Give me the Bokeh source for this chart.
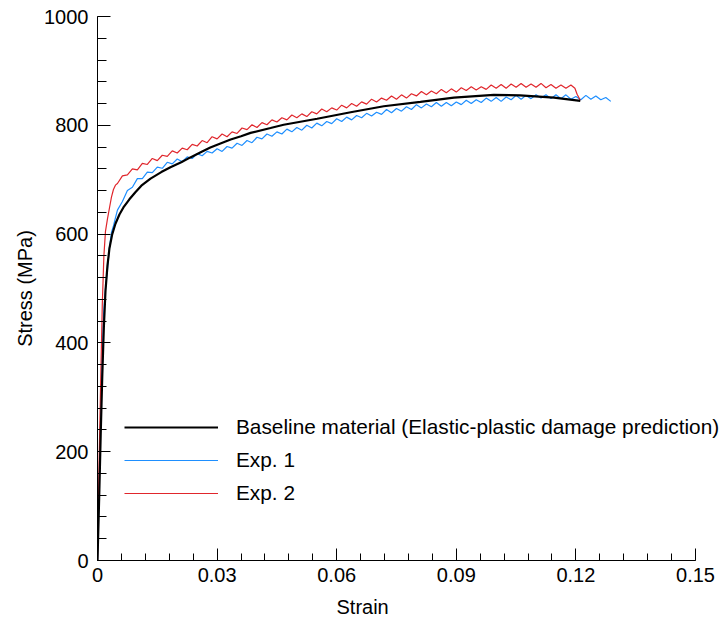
from bokeh.plotting import figure
from bokeh.models import Range1d, FixedTicker, CustomJSTickFormatter, Legend, LegendItem, Title
from bokeh.embed import file_html
from bokeh.resources import INLINE

# ---------------- data ----------------
base_strain = [0, 0.0004, 0.0008, 0.0012, 0.0016, 0.002, 0.0025, 0.003, 0.0037, 0.0045,
               0.0055, 0.0065, 0.008, 0.0095, 0.011, 0.0133, 0.016, 0.0183, 0.021, 0.0233,
               0.026, 0.0283, 0.031, 0.0334, 0.036, 0.0384, 0.0434, 0.0467, 0.0551, 0.0635,
               0.0718, 0.081, 0.0894, 0.0994, 0.106, 0.1145, 0.1211]
base_stress = [0, 110, 230, 340, 430, 495, 542, 574, 600, 619,
               636, 649, 664, 677, 689, 702, 714, 723, 732, 741,
               751, 759, 767, 774, 780, 786, 795, 801, 812, 824,
               835, 843, 851, 856, 855, 851, 845]

exp1_strain = [0, 0.0005, 0.001, 0.0015, 0.002, 0.0025, 0.003, 0.0035, 0.004, 0.0045,
               0.005, 0.00625, 0.0075, 0.00875, 0.01, 0.01125, 0.0125, 0.01375, 0.015, 0.01625,
               0.0175, 0.01875, 0.02, 0.02125, 0.0225, 0.02375, 0.025, 0.02625, 0.0275, 0.02875,
               0.03, 0.03125, 0.0325, 0.03375, 0.035, 0.03625, 0.0375, 0.03875, 0.04, 0.04125,
               0.0425, 0.04375, 0.045, 0.04625, 0.0475, 0.04875, 0.05, 0.05125, 0.0525, 0.05375,
               0.055, 0.05625, 0.0575, 0.05875, 0.06, 0.06125, 0.0625, 0.06375, 0.065, 0.06625,
               0.0675, 0.06875, 0.07, 0.07125, 0.0725, 0.07375, 0.075, 0.07625, 0.0775, 0.07875,
               0.08, 0.08125, 0.0825, 0.08375, 0.085, 0.08625, 0.0875, 0.08875, 0.09, 0.09125,
               0.0925, 0.09375, 0.095, 0.09625, 0.0975, 0.09875, 0.1, 0.10125, 0.1025, 0.10375,
               0.105, 0.10625, 0.1075, 0.10875, 0.11, 0.11125, 0.1125, 0.11375, 0.115, 0.11625,
               0.1175, 0.11875, 0.12, 0.12125, 0.1225, 0.12375, 0.125, 0.12625, 0.1275, 0.12875]
exp1_stress = [0, 160, 330, 450, 500, 535, 575, 603, 615, 630,
               644, 660, 680, 686, 702, 702, 714, 713, 723, 721,
               732, 729, 738, 733, 742, 739, 748, 744, 752, 749,
               757, 752, 761, 758, 767, 763, 772, 768, 778, 775,
               784, 780, 788, 784, 793, 788, 796, 791, 800, 795,
               804, 799, 807, 803, 812, 807, 815, 810, 818, 814,
               822, 817, 824, 820, 829, 823, 831, 826, 834, 829,
               838, 832, 839, 834, 842, 835, 842, 836, 843, 838,
               846, 840, 847, 842, 850, 844, 851, 844, 852, 847,
               855, 848, 855, 849, 856, 850, 856, 849, 856, 849,
               856, 848, 853, 847, 855, 848, 854, 847, 851, 844]

exp2_strain = [0, 0.0004, 0.0008, 0.0012, 0.0016, 0.002, 0.0025, 0.003, 0.0035, 0.004, 0.0045,
               0.005, 0.00625, 0.0075, 0.00875, 0.01, 0.01125, 0.0125, 0.01375, 0.015, 0.01625,
               0.0175, 0.01875, 0.02, 0.02125, 0.0225, 0.02375, 0.025, 0.02625, 0.0275, 0.02875,
               0.03, 0.03125, 0.0325, 0.03375, 0.035, 0.03625, 0.0375, 0.03875, 0.04, 0.04125,
               0.0425, 0.04375, 0.045, 0.04625, 0.0475, 0.04875, 0.05, 0.05125, 0.0525, 0.05375,
               0.055, 0.05625, 0.0575, 0.05875, 0.06, 0.06125, 0.0625, 0.06375, 0.065, 0.06625,
               0.0675, 0.06875, 0.07, 0.07125, 0.0725, 0.07375, 0.075, 0.07625, 0.0775, 0.07875,
               0.08, 0.08125, 0.0825, 0.08375, 0.085, 0.08625, 0.0875, 0.08875, 0.09, 0.09125,
               0.0925, 0.09375, 0.095, 0.09625, 0.0975, 0.09875, 0.1, 0.10125, 0.1025, 0.10375,
               0.105, 0.10625, 0.1075, 0.10875, 0.11, 0.11125, 0.1125, 0.11375, 0.115, 0.11625,
               0.1175, 0.11875, 0.11975, 0.1203, 0.1211]
exp2_stress = [0, 180, 330, 470, 560, 605, 628, 648, 668, 682, 690,
               693, 707, 709, 720, 718, 730, 728, 739, 735, 745,
               743, 753, 749, 758, 755, 765, 762, 772, 768, 779,
               775, 784, 779, 788, 785, 795, 792, 801, 796, 805,
               801, 810, 806, 814, 810, 819, 814, 821, 816, 825,
               821, 830, 825, 832, 828, 837, 832, 840, 835, 843,
               839, 848, 843, 850, 846, 854, 848, 856, 850, 858,
               854, 862, 856, 863, 858, 866, 860, 867, 861, 869,
               864, 871, 865, 871, 866, 874, 868, 875, 868, 876,
               870, 877, 870, 876, 870, 877, 869, 875, 868, 874,
               868, 874, 868, 857, 846]

labels = ["Baseline material (Elastic-plastic damage prediction)", "Exp. 1", "Exp. 2"]
x_ticks = [0, 0.03, 0.06, 0.09, 0.12, 0.15]
y_ticks = [0, 200, 400, 600, 800, 1000]
x_title = "Strain"
y_title = "Stress (MPa)"

FONT = "Liberation Sans"
X_END = 0.15
# frame is 630 px wide; 0..0.15 spans the first 598 px, the rest is room for the legend text
p = figure(width=727, height=627, output_backend="svg", toolbar_location=None,
           x_range=Range1d(0, X_END * 630.0 / 598.0), y_range=Range1d(0, 1000),
           min_border_left=97, min_border_right=0, min_border_top=16, min_border_bottom=67)
p.outline_line_color = None
p.xgrid.visible = False
p.ygrid.visible = False
p.background_fill_color = "white"
p.border_fill_color = "white"

r_exp1 = p.line(exp1_strain, exp1_stress, line_color="#1E8FFF", line_width=1.2)
r_exp2 = p.line(exp2_strain, exp2_stress, line_color="#E0262C", line_width=1.2)
r_base = p.line(base_strain, base_stress, line_color="black", line_width=2.2)

xa = p.xaxis[0]
xa.bounds = (0, X_END)
xa.ticker = FixedTicker(ticks=x_ticks, minor_ticks=[i * 0.006 for i in range(26)])
xa.formatter = CustomJSTickFormatter(code="return tick == 0 ? '0' : tick.toFixed(2);")
ya = p.yaxis[0]
ya.ticker = FixedTicker(ticks=y_ticks, minor_ticks=[i * 40 for i in range(26)])
ya.axis_label = y_title

for ax in (xa, ya):
    ax.axis_line_color = "black"
    ax.axis_line_width = 1
    ax.major_tick_line_color = "black"
    ax.minor_tick_line_color = "black"
    ax.major_tick_out = 0
    ax.minor_tick_out = 0
    ax.major_label_text_font = FONT
    ax.major_label_text_font_size = "20px"
    ax.major_label_text_color = "black"
    ax.axis_label_text_font = FONT
    ax.axis_label_text_font_size = "20px"
    ax.axis_label_text_font_style = "normal"
    ax.axis_label_text_color = "black"

xa.major_tick_in = 12
xa.minor_tick_in = 7
xa.major_label_standoff = 7
ya.major_tick_in = 13
ya.minor_tick_in = 9
ya.major_label_standoff = 9
ya.axis_label_standoff = 5

# x-axis title centred under the 0..0.15 span (left edge of text at 239 px from frame left)
xt = Title(text=x_title, align="left", offset=239, standoff=18,
           text_font=FONT, text_font_size="20px", text_font_style="normal",
           text_color="black")
p.add_layout(xt, "below")

legend = Legend(items=[LegendItem(label=labels[0], renderers=[r_base]),
                       LegendItem(label=labels[1], renderers=[r_exp1]),
                       LegendItem(label=labels[2], renderers=[r_exp2])],
                location=(27, 55), orientation="vertical",
                glyph_width=94, glyph_height=24, label_height=24, spacing=9,
                label_standoff=18, padding=0, margin=0,
                label_text_font=FONT, label_text_font_size="20.8px", label_text_color="black",
                background_fill_alpha=0, border_line_color=None)
p.add_layout(legend, "center")

open("out.html", "w").write(file_html(p, INLINE))
